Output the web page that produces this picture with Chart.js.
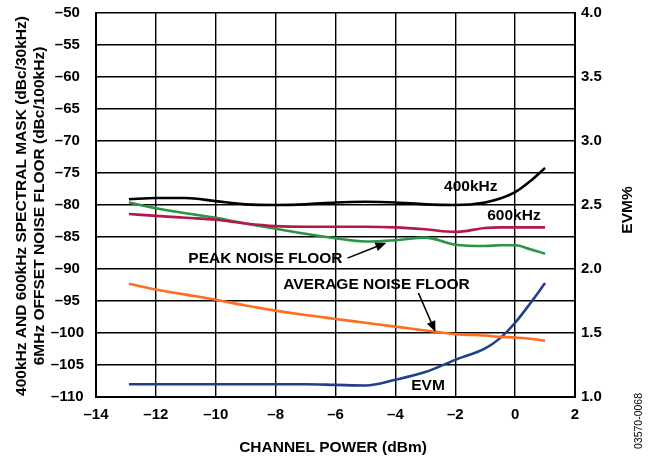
<!DOCTYPE html>
<html>
<head>
<meta charset="utf-8">
<script src="https://cdn.jsdelivr.net/npm/chart.js@4.4.0/dist/chart.umd.min.js"></script>
<style>
  body { margin: 0; background: #fff; }
  #wrap { width: 650px; height: 456px; }
</style>
</head>
<body>
<div id="wrap"><canvas id="chart" width="650" height="456"></canvas></div>
<script>
// channel power (dBm) sample points
const powerDbm = [-12.9, -12, -11, -10, -9, -8, -7, -6, -5, -4, -3, -2, -1, -0.5, 0, 0.5, 1];
// spectral mask / noise floor (dBc) - left axis
const mask400k = [-79.1, -78.9, -78.9, -79.4, -79.9, -80.0, -79.9, -79.6, -79.5, -79.6, -79.9, -80.0, -79.6, -79.0, -78.0, -76.3, -74.2];
const mask600k = [-81.4, -81.7, -82.0, -82.3, -82.9, -83.3, -83.4, -83.4, -83.4, -83.5, -83.8, -84.2, -83.6, -83.5, -83.5, -83.5, -83.5];
const peakNoise = [-79.6, -80.5, -81.3, -82.0, -82.9, -83.7, -84.5, -85.2, -85.7, -85.5, -85.1, -86.2, -86.4, -86.3, -86.3, -86.9, -87.6];
const avgNoise = [-92.3, -93.2, -94.0, -94.8, -95.7, -96.5, -97.2, -97.8, -98.4, -99.0, -99.6, -100.2, -100.4, -100.6, -100.7, -100.9, -101.2];
// EVM % - right axis
const evmPct = [1.10, 1.10, 1.10, 1.10, 1.10, 1.10, 1.10, 1.095, 1.09, 1.135, 1.195, 1.29, 1.38, 1.46, 1.58, 1.73, 1.89];

const xTicks = [-14, -12, -10, -8, -6, -4, -2, 0, 2];

const FONT = "'Liberation Sans', Arial, Helvetica, sans-serif";

function pts(ys) {
  return powerDbm.map((x, i) => ({ x: x, y: ys[i] }));
}
function minus(v) {
  return String(v).replace('-', '\u2013');
}

// labels and arrows on the plot, in data coordinates
const notes = [
  { text: '400kHz', x: -1.48, y: -77.2 },
  { text: '600kHz', x: -0.04, y: -81.6 },
  { text: 'PEAK NOISE FLOOR', x: -8.34, y: -88.45 },
  { text: 'AVERAGE NOISE FLOOR', x: -4.63, y: -92.5 },
  { text: 'EVM', x: -2.91, y: -108.3 }
];
const arrows = [
  { x1: -5.6, y1: -88.3, x2: -4.3, y2: -85.9 },
  { x1: -3.23, y1: -93.75, x2: -2.66, y2: -99.85 }
];

const extras = {
  id: 'extras',
  afterDraw(chart) {
    const ctx = chart.ctx;
    const xs = chart.scales.x, ys = chart.scales.y;
    ctx.save();
    ctx.fillStyle = '#000';
    ctx.strokeStyle = '#000';
    ctx.font = 'bold 15.5px ' + FONT;
    ctx.textAlign = 'center';
    ctx.textBaseline = 'middle';
    notes.forEach(n => {
      ctx.fillText(n.text, xs.getPixelForValue(n.x), ys.getPixelForValue(n.y));
    });
    arrows.forEach(a => {
      const x1 = xs.getPixelForValue(a.x1), y1 = ys.getPixelForValue(a.y1);
      const x2 = xs.getPixelForValue(a.x2), y2 = ys.getPixelForValue(a.y2);
      const ang = Math.atan2(y2 - y1, x2 - x1);
      const hl = 11, hw = 4.5;
      const bx = x2 - hl * Math.cos(ang), by = y2 - hl * Math.sin(ang);
      ctx.lineWidth = 1.6;
      ctx.beginPath();
      ctx.moveTo(x1, y1);
      ctx.lineTo(bx, by);
      ctx.stroke();
      ctx.beginPath();
      ctx.moveTo(x2, y2);
      ctx.lineTo(bx + hw * Math.sin(ang), by - hw * Math.cos(ang));
      ctx.lineTo(bx - hw * Math.sin(ang), by + hw * Math.cos(ang));
      ctx.closePath();
      ctx.fill();
    });

    // axis titles
    const midY = (chart.chartArea.top + chart.chartArea.bottom) / 2;
    ctx.save();
    ctx.translate(22, midY + 1);
    ctx.rotate(-Math.PI / 2);
    ctx.fillText('400kHz AND 600kHz SPECTRAL MASK (dBc/30kHz)', 0, 0);
    ctx.fillText('6MHz OFFSET NOISE FLOOR (dBc/100kHz)', 0, 18);
    ctx.restore();

    ctx.save();
    ctx.translate(628, 210);
    ctx.rotate(-Math.PI / 2);
    ctx.fillText('EVM%', 0, 0);
    ctx.restore();

    ctx.fillText('CHANNEL POWER (dBm)', 333, 448);

    ctx.save();
    ctx.translate(639, 421);
    ctx.rotate(-Math.PI / 2);
    ctx.font = '10.5px ' + FONT;
    ctx.fillText('03570-0068', 0, 0);
    ctx.restore();
    ctx.restore();
  }
};

function line(label, data, color, axis) {
  return {
    label: label,
    data: pts(data),
    borderColor: color,
    backgroundColor: color,
    borderWidth: 2.6,
    pointRadius: 0,
    cubicInterpolationMode: 'monotone',
    yAxisID: axis
  };
}

const tickFont = { family: FONT, size: 15, weight: 'bold' };

function noVPad(s) {
  s.paddingTop = 0;
  s.paddingBottom = 0;
}

new Chart(document.getElementById('chart'), {
  type: 'line',
  data: {
    datasets: [
      line('400kHz', mask400k, '#000000', 'y'),
      line('600kHz', mask600k, '#b5174b', 'y'),
      line('PEAK NOISE FLOOR', peakNoise, '#2b9447', 'y'),
      line('AVERAGE NOISE FLOOR', avgNoise, '#ff6d1f', 'y'),
      line('EVM', evmPct, '#213f8d', 'y1')
    ]
  },
  options: {
    responsive: false,
    animation: false,
    layout: { padding: { top: 13, left: 0, right: 0, bottom: 0 } },
    plugins: { legend: { display: false }, tooltip: { enabled: false } },
    scales: {
      x: {
        type: 'linear',
        min: -14,
        max: 2,
        afterBuildTicks: s => { s.ticks = xTicks.map(v => ({ value: v })); },
        afterFit: s => { s.height = 59; },
        ticks: {
          color: '#000',
          font: tickFont,
          padding: 9,
          maxRotation: 0,
          callback: v => minus(v)
        },
        grid: { color: '#000', lineWidth: 1.4, drawTicks: false },
        border: { color: '#000', width: 2 }
      },
      y: {
        position: 'left',
        min: -110,
        max: -50,
        afterFit: s => { s.width = 96; noVPad(s); },
        ticks: {
          stepSize: 5,
          color: '#000',
          crossAlign: 'center',
          padding: 12,
          font: tickFont,
          callback: v => minus(v)
        },
        grid: { color: '#000', lineWidth: 1.4, drawTicks: false },
        border: { color: '#000', width: 2 }
      },
      y1: {
        position: 'right',
        min: 1,
        max: 4,
        afterFit: s => { s.width = 75; noVPad(s); },
        ticks: {
          stepSize: 0.5,
          color: '#000',
          padding: 6,
          font: tickFont,
          callback: v => v.toFixed(1)
        },
        grid: { drawOnChartArea: false, drawTicks: false },
        border: { color: '#000', width: 2 }
      }
    }
  },
  plugins: [extras]
});
</script>
</body>
</html>
